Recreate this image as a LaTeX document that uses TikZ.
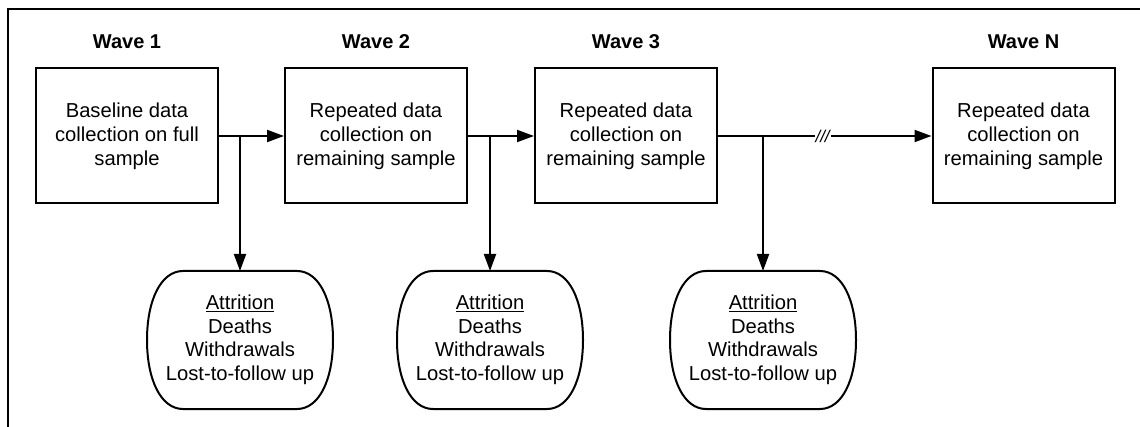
\documentclass[tikz,border=0pt]{standalone}
\usepackage{fontspec}
\setmainfont{Liberation Sans}
\usetikzlibrary{arrows.meta}
\begin{document}
\begin{tikzpicture}[x=1pt,y=1pt,
  line width=2pt, line join=round,
  wavebox/.style={draw, minimum width=182pt, minimum height=135pt, align=center,
    font=\fontsize{20.2}{24}\selectfont, inner sep=0pt, line join=miter},
  wavelabel/.style={font=\fontsize{20}{24}\selectfont\bfseries},
  lossnode/.style={minimum width=184pt, minimum height=136pt, align=center,
    font=\fontsize{20.2}{23.5}\selectfont, inner sep=0pt},
  flow/.style={-{Triangle[length=17pt,width=12pt]}},
  breakmark/.style={fill=white, inner sep=1pt, font=\fontsize{17}{17}\selectfont\itshape}
]
\useasboundingbox (0,0) rectangle (1140,-427);
% frame
\draw[line width=1.8pt, line join=miter] (1140,-9) -- (8,-9) -- (8,-427);

% wave boxes
\node[wavebox] (b1) at (127,-136) {Baseline data\\collection on full\\sample};
\node[wavebox] (b2) at (376,-136) {Repeated data\\collection on\\remaining sample};
\node[wavebox] (b3) at (626,-136) {Repeated data\\collection on\\remaining sample};
\node[wavebox] (bN) at (1023.5,-136) {Repeated data\\collection on\\remaining sample};

% wave titles
\node[wavelabel] (w1) at (127,-42) {Wave 1};
\node[wavelabel] (w2) at (376,-42) {Wave 2};
\node[wavelabel] (w3) at (626,-42) {Wave 3};
\node[wavelabel] (wN) at (1023.5,-42) {Wave N};

% attrition nodes: flat top and bottom, bulging sides
\node[lossnode] (a1) at (240,-340) {\underline{Attrition}\\Deaths\\Withdrawals\\Lost-to-follow up};
\node[lossnode] (a2) at (490,-340) {\underline{Attrition}\\Deaths\\Withdrawals\\Lost-to-follow up};
\node[lossnode] (a3) at (763,-340) {\underline{Attrition}\\Deaths\\Withdrawals\\Lost-to-follow up};
\foreach \n in {a1,a2,a3}{
  \draw (\n.west)
    .. controls ([yshift=40pt]\n.west) and ([xshift=14pt]\n.north west) .. ([xshift=36pt]\n.north west)
    -- ([xshift=-36pt]\n.north east)
    .. controls ([xshift=-14pt]\n.north east) and ([yshift=40pt]\n.east) .. (\n.east)
    .. controls ([yshift=-40pt]\n.east) and ([xshift=-14pt]\n.south east) .. ([xshift=-36pt]\n.south east)
    -- ([xshift=36pt]\n.south west)
    .. controls ([xshift=14pt]\n.south west) and ([yshift=-40pt]\n.west) .. (\n.west) -- cycle;
}

% forward arrows between waves
\draw[flow] (b1) -- (b2);
\draw[flow] (b2) -- (b3);
\draw[flow] (b3) -- (bN) node[breakmark, pos=0.49] {///};

% attrition branches
\draw[flow] (a1 |- b1.east) -- (a1.north);
\draw[flow] (a2 |- b2.east) -- (a2.north);
\draw[flow] (a3 |- b3.east) -- (a3.north);
\end{tikzpicture}
\end{document}
